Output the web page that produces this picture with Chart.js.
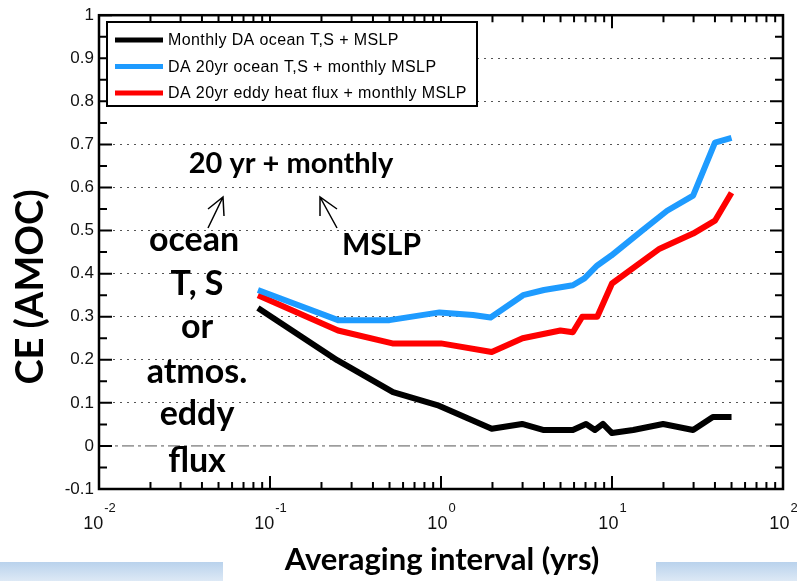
<!DOCTYPE html>
<html>
<head>
<meta charset="utf-8">
<script src="https://cdn.jsdelivr.net/npm/chart.js@4"></script>
<style>
  html, body { margin: 0; padding: 0; background: #fff; }
  #wrap { width: 797px; height: 581px; position: relative; }
</style>
</head>
<body>
<div id="wrap"><canvas id="ce-chart"></canvas></div>
<script>
// averaging interval (yrs) and CE values
var blackX = [0.085, 0.247, 0.524, 0.95, 1.98, 2.98, 3.95, 5.9, 7.05, 7.94, 8.85, 10.0, 13.3, 19.9, 29.8, 38.9, 50];
var blackY = [0.32, 0.199, 0.125, 0.095, 0.04, 0.051, 0.037, 0.037, 0.051, 0.037, 0.051, 0.03, 0.037, 0.051, 0.037, 0.067, 0.067];

var blueX = [0.085, 0.25, 0.5, 0.98, 1.54, 1.95, 3.02, 4.0, 5.9, 6.9, 8.2, 9.9, 15, 21, 29.8, 40, 50];
var blueY = [0.362, 0.292, 0.292, 0.31, 0.304, 0.298, 0.35, 0.362, 0.373, 0.389, 0.419, 0.442, 0.5, 0.546, 0.581, 0.704, 0.715];

var redX = [0.085, 0.25, 0.52, 1.0, 1.98, 3.0, 4.99, 5.9, 6.7, 8.2, 10, 19, 29.8, 40, 50];
var redY = [0.35, 0.268, 0.238, 0.238, 0.218, 0.25, 0.268, 0.264, 0.3, 0.3, 0.377, 0.458, 0.493, 0.523, 0.588];

var seriesLabels = ['Monthly DA ocean T,S + MSLP', 'DA 20yr ocean T,S + monthly MSLP', 'DA 20yr eddy heat flux + monthly MSLP'];
var xTickExps = [-2, -1, 0, 1, 2];
var yTicks = [-0.1, 0, 0.1, 0.2, 0.3, 0.4, 0.5, 0.6, 0.7, 0.8, 0.9, 1];
var noteTop = '20 yr + monthly';
var noteLeft = ['ocean', 'T, S', 'or', 'atmos.', 'eddy', 'flux'];
var noteRight = 'MSLP';

function pts(xs, ys) {
  return xs.map(function (x, i) { return { x: x, y: ys[i] }; });
}

var decor = {
  id: 'decor',
  beforeDraw: function (chart) {
    var ctx = chart.ctx;
    ctx.save();
    var g = ctx.createLinearGradient(0, 562, 0, 581);
    g.addColorStop(0, '#b9d2ec');
    g.addColorStop(1, '#dde9f6');
    ctx.fillStyle = g;
    ctx.fillRect(0, 562, 223, 19);
    ctx.fillRect(656, 562, 141, 19);
    ctx.restore();
  },
  beforeDatasetsDraw: function (chart) {
    var ctx = chart.ctx, a = chart.chartArea, y0 = chart.scales.y.getPixelForValue(0);
    ctx.save();
    ctx.strokeStyle = '#555';
    ctx.lineWidth = 1;
    ctx.setLineDash([12, 4, 3, 4]);
    ctx.beginPath();
    ctx.moveTo(a.left, y0);
    ctx.lineTo(a.right, y0);
    ctx.stroke();
    ctx.restore();
  },
  afterDraw: function (chart) {
    var ctx = chart.ctx, a = chart.chartArea;
    var xs = chart.scales.x, ys = chart.scales.y;
    ctx.save();

    // box
    ctx.strokeStyle = '#000';
    ctx.lineWidth = 2.5;
    ctx.strokeRect(a.left, a.top, a.right - a.left, a.bottom - a.top);

    // inward ticks
    ctx.lineWidth = 2;
    ctx.beginPath();
    for (var d = -2; d <= 2; d++) {
      for (var k = 1; k <= 9; k++) {
        if (d === 2 && k > 1) break;
        var px = xs.getPixelForValue(k * Math.pow(10, d));
        var len = k === 1 ? 13 : 7;
        ctx.moveTo(px, a.bottom); ctx.lineTo(px, a.bottom - len);
        ctx.moveTo(px, a.top); ctx.lineTo(px, a.top + len);
      }
    }
    for (var i = 0; i <= 22; i++) {
      var v = -0.1 + i * 0.05;
      var py = ys.getPixelForValue(v);
      var l = i % 2 === 0 ? 13 : 8;
      ctx.moveTo(a.left, py); ctx.lineTo(a.left + l, py);
      ctx.moveTo(a.right, py); ctx.lineTo(a.right - l, py);
    }
    ctx.stroke();

    // x tick labels 10^n
    ctx.fillStyle = '#111';
    ctx.textBaseline = 'alphabetic';
    ctx.textAlign = 'left';
    xTickExps.forEach(function (e) {
      var px = xs.getPixelForValue(Math.pow(10, e));
      ctx.font = '18px "Liberation Sans", Arial, sans-serif';
      var w1 = ctx.measureText('10').width;
      ctx.font = '13px "Liberation Sans", Arial, sans-serif';
      var w2 = ctx.measureText(String(e)).width;
      var x0 = px - (w1 + w2) / 2;
      ctx.font = '18px "Liberation Sans", Arial, sans-serif';
      ctx.fillText('10', x0, 529);
      ctx.font = '13px "Liberation Sans", Arial, sans-serif';
      ctx.fillText(String(e), x0 + w1 + 1, 512);
    });

    // axis titles
    ctx.fillStyle = '#000';
    ctx.font = 'bold 31px Lato, sans-serif';
    ctx.textAlign = 'center';
    ctx.fillText('Averaging interval (yrs)', 442, 570);
    ctx.save();
    ctx.translate(43, 287);
    ctx.rotate(-Math.PI / 2);
    ctx.font = 'bold 38px Lato, sans-serif';
    ctx.fillText('CE (AMOC)', 0, 0);
    ctx.restore();

    // legend
    ctx.fillStyle = '#fff';
    ctx.fillRect(107, 22, 370, 84);
    ctx.strokeStyle = '#000';
    ctx.lineWidth = 2;
    ctx.strokeRect(107, 22, 370, 84);
    ctx.textAlign = 'left';
    ctx.textBaseline = 'middle';
    ctx.font = '16px "Liberation Sans", Arial, sans-serif';
    ctx.letterSpacing = '0.4px';
    chart.data.datasets.forEach(function (ds, j) {
      var ry = 40 + j * 26.5;
      ctx.strokeStyle = ds.borderColor;
      ctx.lineWidth = 5;
      ctx.beginPath();
      ctx.moveTo(115, ry); ctx.lineTo(163, ry);
      ctx.stroke();
      ctx.fillStyle = '#000';
      ctx.fillText(ds.label, 168, ry + 1);
    });
    ctx.letterSpacing = '0px';

    // annotations
    ctx.fillStyle = '#000';
    ctx.textBaseline = 'alphabetic';
    ctx.textAlign = 'center';
    ctx.font = 'bold 29px Lato, sans-serif';
    ctx.fillText(noteTop, 291, 173);
    ctx.font = 'bold 30px Lato, sans-serif';
    ctx.textAlign = 'left';
    ctx.fillText(noteRight, 342, 255);
    ctx.textAlign = 'center';
    ctx.font = 'bold 34px Lato, sans-serif';
    var base = [251, 295, 338, 383, 425, 472];
    noteLeft.forEach(function (t, j) {
      ctx.fillText(t, j === 0 ? 194 : 197, base[j]);
    });

    // arrows
    ctx.strokeStyle = '#000';
    ctx.lineWidth = 1.5;
    ctx.beginPath();
    ctx.moveTo(208, 228); ctx.lineTo(223, 197);
    ctx.moveTo(208, 209); ctx.lineTo(223, 197); ctx.lineTo(224, 216);
    ctx.moveTo(337, 228); ctx.lineTo(320, 197);
    ctx.moveTo(320, 216); ctx.lineTo(320, 197); ctx.lineTo(337, 209);
    ctx.stroke();

    ctx.restore();
  }
};

var ctx = document.getElementById('ce-chart').getContext('2d');
var chart = new Chart(ctx, {
  type: 'line',
  data: {
    datasets: [{
      label: seriesLabels[0],
      data: pts(blackX, blackY),
      borderColor: '#000000',
      borderWidth: 6
    }, {
      label: seriesLabels[1],
      data: pts(blueX, blueY),
      borderColor: '#1e9bff',
      borderWidth: 6
    }, {
      label: seriesLabels[2],
      data: pts(redX, redY),
      borderColor: '#ff0000',
      borderWidth: 6
    }]
  },
  options: {
    responsive: true,
    maintainAspectRatio: false,
    animation: false,
    events: [],
    layout: { padding: { top: 14, right: 14, left: 0, bottom: 0 } },
    elements: {
      point: { radius: 0 },
      line: { tension: 0, fill: false, borderJoinStyle: 'round', borderCapStyle: 'butt' }
    },
    plugins: { legend: { display: false }, tooltip: { enabled: false } },
    scales: {
      x: {
        type: 'logarithmic',
        min: 0.01,
        max: 100,
        grid: { display: false },
        border: { display: false },
        ticks: { display: false },
        afterFit: function (s) { s.height = 92; }
      },
      y: {
        type: 'linear',
        min: -0.1,
        max: 1,
        afterBuildTicks: function (s) {
          s.ticks = yTicks.map(function (v) { return { value: v }; });
        },
        ticks: {
          padding: 5,
          color: '#111',
          font: { family: '"Liberation Sans", Arial, sans-serif', size: 17 },
          callback: function (v) { return String(Math.round(v * 10) / 10); }
        },
        grid: {
          drawTicks: false,
          lineWidth: 1,
          color: function (c) {
            var v = c.tick ? c.tick.value : 0;
            if (Math.abs(v) < 1e-6 || v < -0.05 || v > 0.95) return 'rgba(0,0,0,0)';
            return '#555';
          }
        },
        border: { display: false, dash: [2, 5] },
        afterFit: function (s) { s.width = 99; }
      }
    }
  },
  plugins: [decor]
});
</script>
</body>
</html>
